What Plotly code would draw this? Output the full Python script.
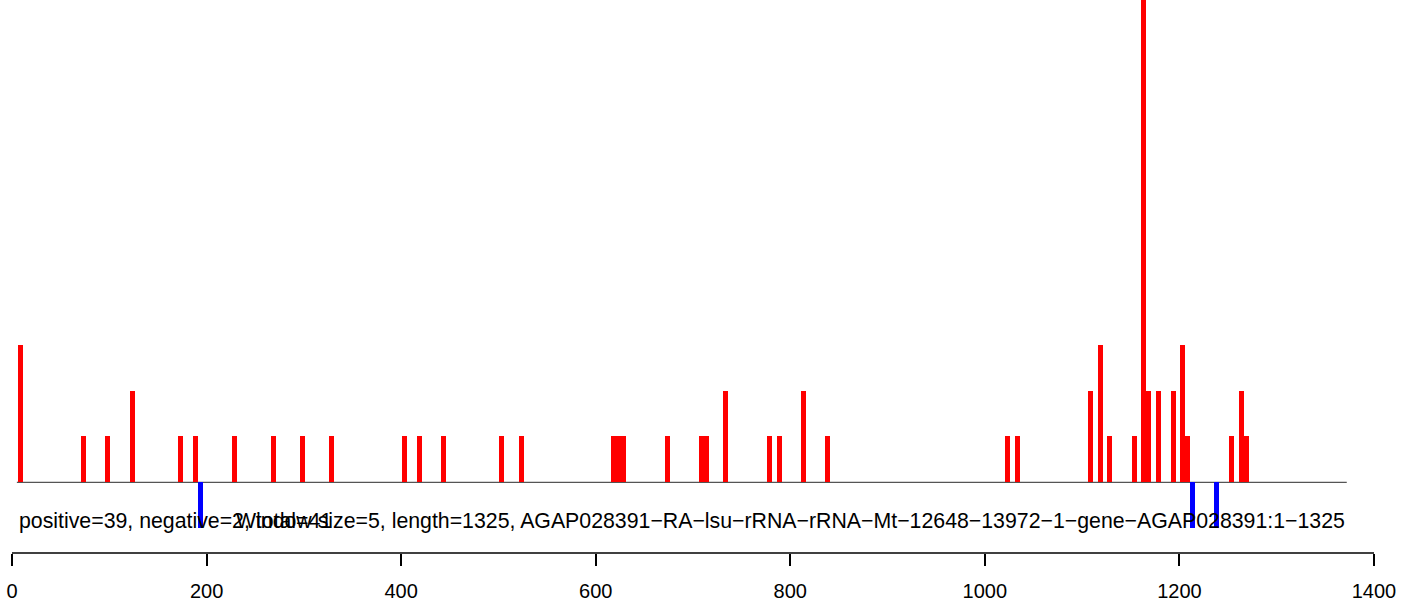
import plotly.graph_objects as go

# Window start positions (window size = 5) and counts
pos_starts = [6, 71, 96, 121, 171, 186, 226, 266, 296, 326,
              401, 416, 441, 501, 521, 616, 621, 626, 671,
              706, 711, 731, 776, 786, 811, 836,
              1021, 1031, 1106, 1116, 1126, 1151, 1161, 1166, 1176,
              1191, 1201, 1206, 1251, 1261, 1266]
pos_values = [3, 1, 1, 2, 1, 1, 1, 1, 1, 1,
              1, 1, 1, 1, 1, 1, 1, 1, 1,
              1, 1, 2, 1, 1, 2, 1,
              1, 1, 2, 3, 1, 1, 12, 2, 2,
              2, 3, 1, 1, 2, 1]
neg_starts = [191, 1211, 1236]
neg_values = [-1, -1, -1]

window = 5
baseline_span = [5, 1372]
x_ticks = [0, 200, 400, 600, 800, 1000, 1200, 1400]
left_label = "positive=39, negative=2, total=41"
right_label = ("Window size=5, length=1325, "
               "AGAP028391\u2212RA\u2212lsu\u2212rRNA\u2212rRNA\u2212Mt\u221212648\u221213972\u22121\u2212gene\u2212AGAP028391:1\u22121325")

FONT = "Liberation Sans, Arial, Helvetica, sans-serif"

fig = go.Figure()
fig.add_trace(go.Bar(x=pos_starts, y=pos_values, width=window, offset=0,
                     marker=dict(color="#FF0000", line=dict(width=0)),
                     showlegend=False, hoverinfo="skip"))
fig.add_trace(go.Bar(x=neg_starts, y=neg_values, width=window, offset=0,
                     marker=dict(color="#0000FF", line=dict(width=0)),
                     showlegend=False, hoverinfo="skip"))

# baseline
fig.add_shape(type="line", xref="x", yref="y",
              x0=baseline_span[0], x1=baseline_span[1], y0=0, y1=0,
              line=dict(color="#555555", width=1.3), layer="below")
# axis line from first to last tick
fig.add_shape(type="line", xref="x", yref="paper",
              x0=x_ticks[0], x1=x_ticks[-1], y0=0, y1=0,
              line=dict(color="black", width=1.6))

fig.add_annotation(x=baseline_span[0], y=-0.845, xref="x", yref="y",
                   text=left_label, showarrow=False, xanchor="left", yanchor="middle",
                   font=dict(family=FONT, size=21.3, color="black"))
fig.add_annotation(x=baseline_span[1], y=-0.845, xref="x", yref="y",
                   text=right_label, showarrow=False, xanchor="right", yanchor="middle",
                   font=dict(family=FONT, size=21.3, color="black"))

scale = (1374 - 12) / 1400.0
off = 12  # pixel position of x = 0
fig.update_layout(
    width=1417, height=603,
    margin=dict(l=0, r=0, t=0, b=50),
    paper_bgcolor="white", plot_bgcolor="white",
    bargap=0,
    barmode="overlay",
    xaxis=dict(range=[-off / scale, (1417 - off) / scale],
               tickvals=x_ticks, ticktext=[str(v) for v in x_ticks],
               ticks="outside", ticklen=12, tickwidth=1.6, tickcolor="black",
               ticklabelstandoff=8, ticklabeloverflow="allow",
               automargin=False,
               showline=False, showgrid=False, zeroline=False,
               tickfont=dict(family=FONT, size=20, color="black")),
    yaxis=dict(range=[-1.544, 10.53], visible=False, showgrid=False,
               zeroline=False, automargin=False),
)

fig.write_html("out.html", config={"displayModeBar": False},
               post_script="document.body.style.margin='0px';")
